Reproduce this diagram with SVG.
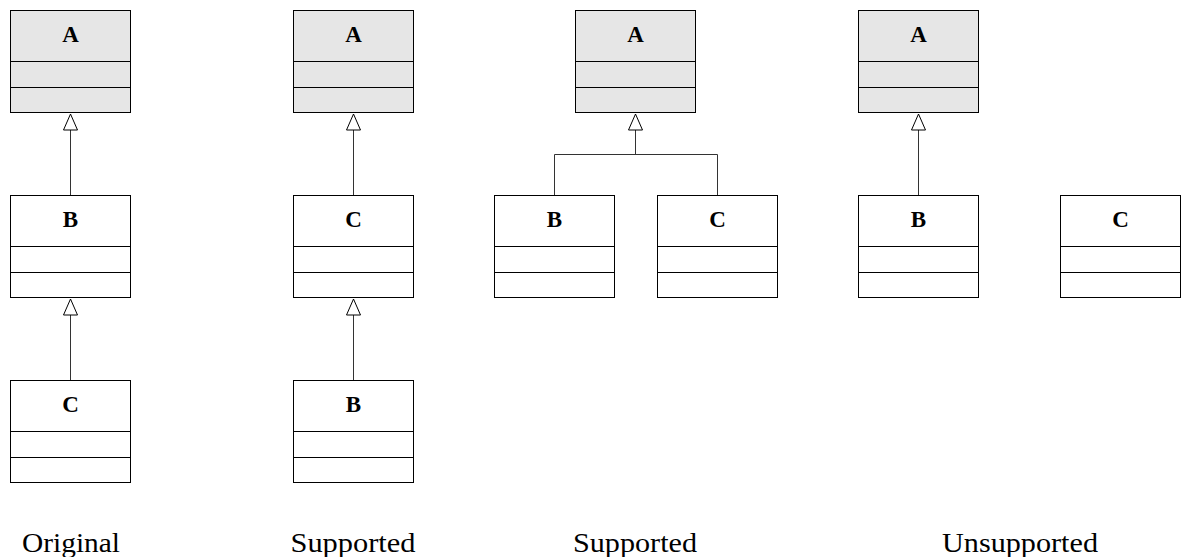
<svg xmlns="http://www.w3.org/2000/svg" width="1182" height="557" viewBox="0 0 1182 557">
  <style>
    .box { fill: #ffffff; stroke: #000000; stroke-width: 1; }
    .hdr { fill: #e6e6e6; }
    .div { stroke: #000000; stroke-width: 1; }
    .name { font-family: "Liberation Serif", "DejaVu Serif", serif; font-weight: bold; font-size: 23px; text-anchor: middle; fill: #000; }
    .cap { font-family: "Liberation Serif", "DejaVu Serif", serif; font-size: 28px; text-anchor: middle; fill: #000; }
    .edge { fill: none; stroke: #333333; stroke-width: 1; }
  </style>
  <defs>
    <marker id="gen" markerUnits="userSpaceOnUse" markerWidth="18" markerHeight="16" refX="16" refY="7" orient="auto" overflow="visible">
      <path d="M0,0 L16,7 L0,14 z" fill="#ffffff" stroke="#000000" stroke-width="1"/>
    </marker>
  </defs>

  <rect width="1182" height="557" fill="#ffffff"/>

  <g id="connectors">
    <path class="edge" d="M70.5,195 V114" marker-end="url(#gen)"/>
    <path class="edge" d="M70.5,380 V299" marker-end="url(#gen)"/>
    <path class="edge" d="M353.5,195 V114" marker-end="url(#gen)"/>
    <path class="edge" d="M353.5,380 V299" marker-end="url(#gen)"/>
    <path class="edge" d="M554.5,195 V154.5 H717.5 V195"/>
    <path class="edge" d="M635.5,154.5 V114" marker-end="url(#gen)"/>
    <path class="edge" d="M918.5,195 V114" marker-end="url(#gen)"/>
  </g>

  <!-- Column 1: Original -->
  <g id="c1-A">
    <rect class="box hdr" x="10.5" y="10.5" width="120" height="102"/>
    <line class="div" x1="10.5" y1="61.5" x2="130.5" y2="61.5"/>
    <line class="div" x1="10.5" y1="87.5" x2="130.5" y2="87.5"/>
    <text class="name" x="70.5" y="42">A</text>
  </g>
  <g id="c1-B">
    <rect class="box" x="10.5" y="195.5" width="120" height="102"/>
    <line class="div" x1="10.5" y1="246.5" x2="130.5" y2="246.5"/>
    <line class="div" x1="10.5" y1="272.5" x2="130.5" y2="272.5"/>
    <text class="name" x="70.5" y="227">B</text>
  </g>
  <g id="c1-C">
    <rect class="box" x="10.5" y="380.5" width="120" height="102"/>
    <line class="div" x1="10.5" y1="431.5" x2="130.5" y2="431.5"/>
    <line class="div" x1="10.5" y1="457.5" x2="130.5" y2="457.5"/>
    <text class="name" x="70.5" y="412">C</text>
  </g>

  <!-- Column 2 -->
  <g id="c2-A">
    <rect class="box hdr" x="293.5" y="10.5" width="120" height="102"/>
    <line class="div" x1="293.5" y1="61.5" x2="413.5" y2="61.5"/>
    <line class="div" x1="293.5" y1="87.5" x2="413.5" y2="87.5"/>
    <text class="name" x="353.5" y="42">A</text>
  </g>
  <g id="c2-C">
    <rect class="box" x="293.5" y="195.5" width="120" height="102"/>
    <line class="div" x1="293.5" y1="246.5" x2="413.5" y2="246.5"/>
    <line class="div" x1="293.5" y1="272.5" x2="413.5" y2="272.5"/>
    <text class="name" x="353.5" y="227">C</text>
  </g>
  <g id="c2-B">
    <rect class="box" x="293.5" y="380.5" width="120" height="102"/>
    <line class="div" x1="293.5" y1="431.5" x2="413.5" y2="431.5"/>
    <line class="div" x1="293.5" y1="457.5" x2="413.5" y2="457.5"/>
    <text class="name" x="353.5" y="412">B</text>
  </g>

  <!-- Column 3 -->
  <g id="c3-A">
    <rect class="box hdr" x="575.5" y="10.5" width="120" height="102"/>
    <line class="div" x1="575.5" y1="61.5" x2="695.5" y2="61.5"/>
    <line class="div" x1="575.5" y1="87.5" x2="695.5" y2="87.5"/>
    <text class="name" x="635.5" y="42">A</text>
  </g>
  <g id="c3-B">
    <rect class="box" x="494.5" y="195.5" width="120" height="102"/>
    <line class="div" x1="494.5" y1="246.5" x2="614.5" y2="246.5"/>
    <line class="div" x1="494.5" y1="272.5" x2="614.5" y2="272.5"/>
    <text class="name" x="554.5" y="227">B</text>
  </g>
  <g id="c3-C">
    <rect class="box" x="657.5" y="195.5" width="120" height="102"/>
    <line class="div" x1="657.5" y1="246.5" x2="777.5" y2="246.5"/>
    <line class="div" x1="657.5" y1="272.5" x2="777.5" y2="272.5"/>
    <text class="name" x="717.5" y="227">C</text>
  </g>

  <!-- Column 4 -->
  <g id="c4-A">
    <rect class="box hdr" x="858.5" y="10.5" width="120" height="102"/>
    <line class="div" x1="858.5" y1="61.5" x2="978.5" y2="61.5"/>
    <line class="div" x1="858.5" y1="87.5" x2="978.5" y2="87.5"/>
    <text class="name" x="918.5" y="42">A</text>
  </g>
  <g id="c4-B">
    <rect class="box" x="858.5" y="195.5" width="120" height="102"/>
    <line class="div" x1="858.5" y1="246.5" x2="978.5" y2="246.5"/>
    <line class="div" x1="858.5" y1="272.5" x2="978.5" y2="272.5"/>
    <text class="name" x="918.5" y="227">B</text>
  </g>
  <g id="c4-C">
    <rect class="box" x="1060.5" y="195.5" width="120" height="102"/>
    <line class="div" x1="1060.5" y1="246.5" x2="1180.5" y2="246.5"/>
    <line class="div" x1="1060.5" y1="272.5" x2="1180.5" y2="272.5"/>
    <text class="name" x="1120.5" y="227">C</text>
  </g>

  <g id="captions">
    <text class="cap" x="71" y="552" textLength="98" lengthAdjust="spacingAndGlyphs">Original</text>
    <text class="cap" x="353" y="552" textLength="125" lengthAdjust="spacingAndGlyphs">Supported</text>
    <text class="cap" x="635" y="552" textLength="124" lengthAdjust="spacingAndGlyphs">Supported</text>
    <text class="cap" x="1020" y="552" textLength="156" lengthAdjust="spacingAndGlyphs">Unsupported</text>
  </g>
</svg>
